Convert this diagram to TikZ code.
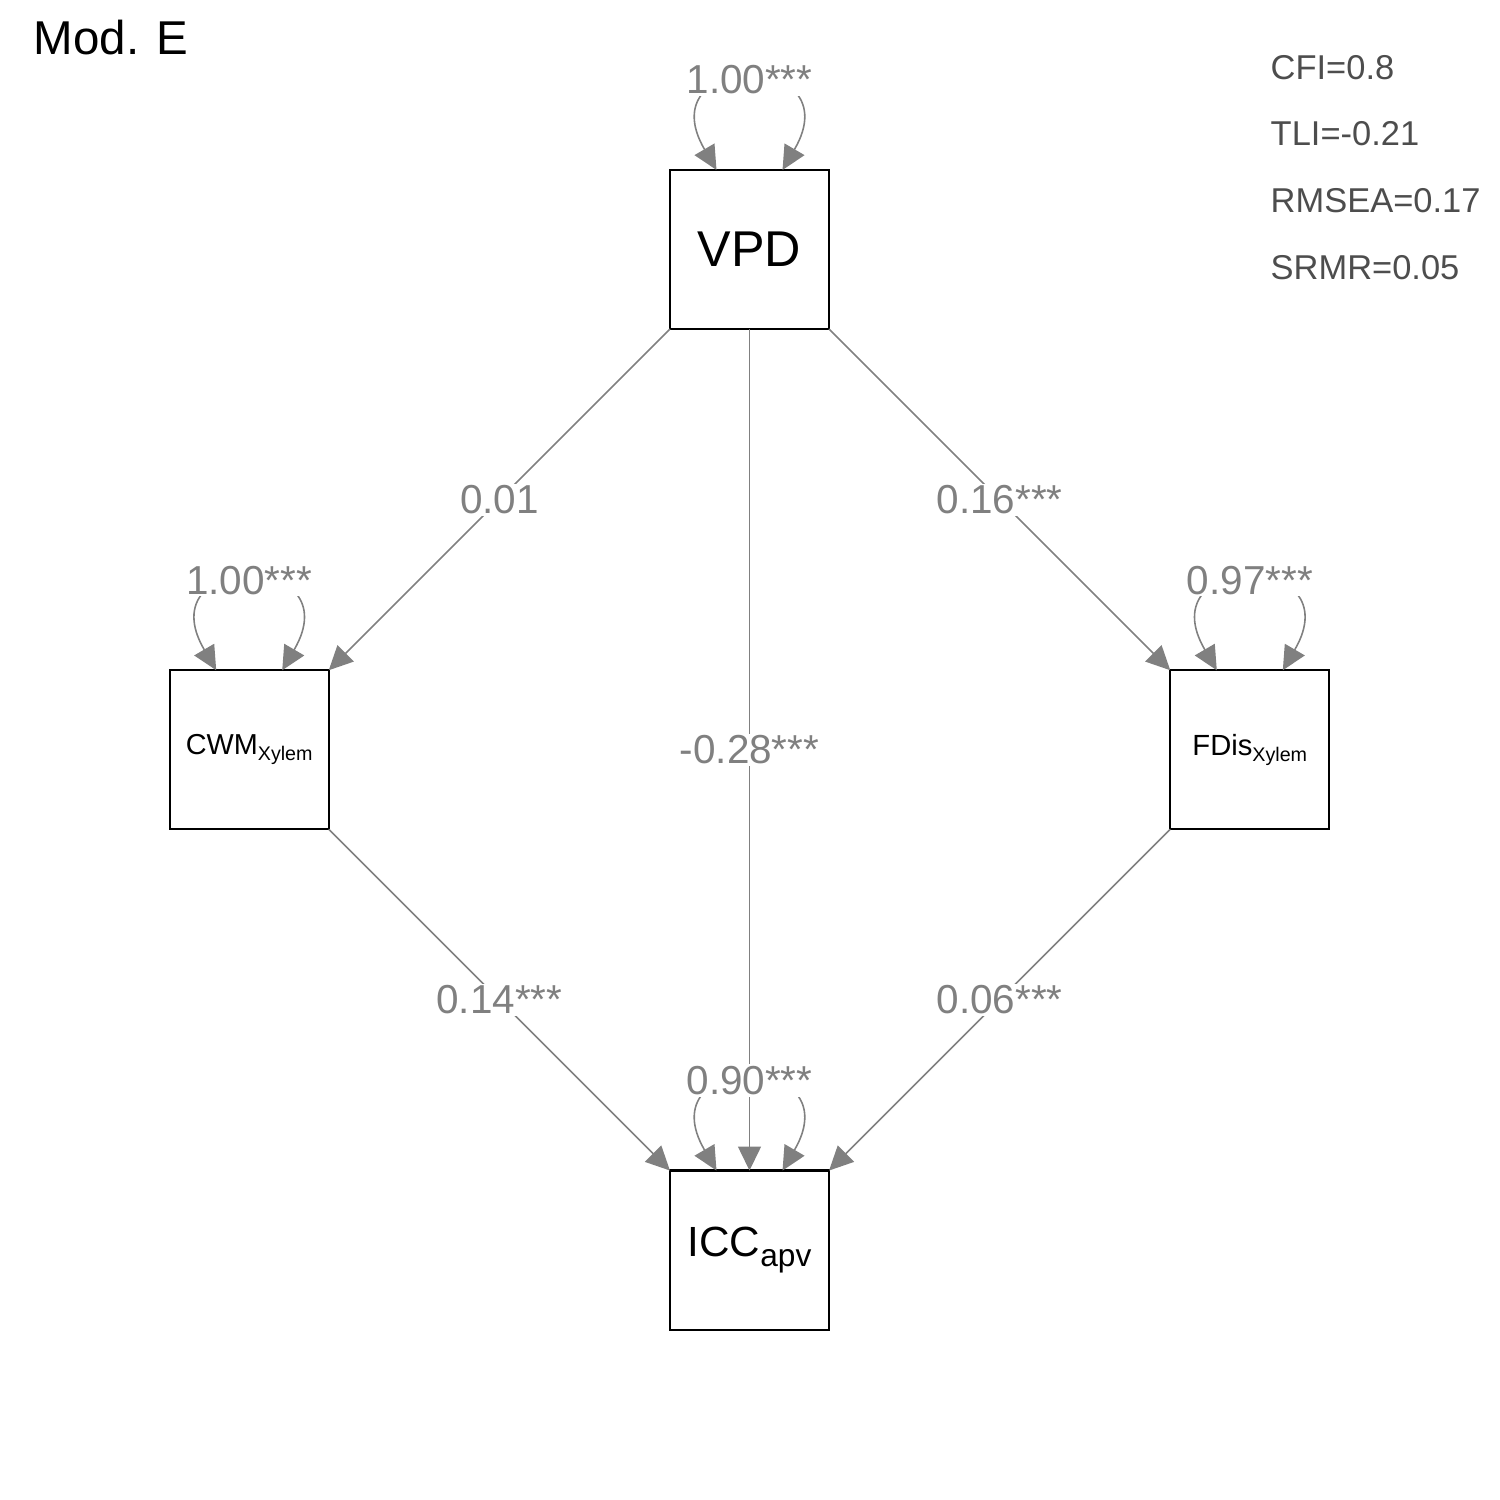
\documentclass[tikz,border=0pt]{standalone}
\usepackage{fontspec}
\setmainfont{Liberation Sans}
\usetikzlibrary{arrows.meta,positioning,calc}
\definecolor{edgegray}{HTML}{808080}
\definecolor{fitgray}{HTML}{4D4D4D}
\tikzset{
  obsvar/.style={rectangle,draw,line width=0.6pt,minimum size=1.59cm,inner sep=0pt,outer sep=0pt},
  effect/.style={-{Triangle[length=6.8pt,width=6.5pt]}, draw=edgegray, line width=0.45pt},
  resid/.style={{Triangle[length=6.8pt,width=6.5pt]}-{Triangle[length=6.8pt,width=6.5pt]}, draw=edgegray, line width=0.45pt},
  est/.style={fill=white,inner sep=0.5pt,text=edgegray,font=\fontsize{11.5pt}{12pt}\selectfont},
  fitstat/.style={anchor=west,inner sep=0pt,text=fitgray,font=\fontsize{9.8pt}{10pt}\selectfont}
}

\begin{document}
\begin{tikzpicture}[x=0.01cm,y=-0.01cm]
  \useasboundingbox (0,0) rectangle (1500,1500);
  \node[anchor=west,inner sep=0pt,font=\fontsize{13.5pt}{15pt}\selectfont] (title) at (33,38) {Mod. E};
  % variables
  \node[obsvar,font=\fontsize{14.3pt}{15pt}\selectfont] (VPD) at (749.5,249.5) {VPD};
  \node[obsvar,below left=3.41cm and 3.41cm of VPD,font=\fontsize{8.2pt}{9pt}\selectfont] (CWM)
      {CWM\raisebox{-1.8pt}{\fontsize{5.6pt}{6pt}\selectfont Xylem}};
  \node[obsvar,below right=3.41cm and 3.41cm of VPD,font=\fontsize{8.3pt}{9pt}\selectfont] (FDis)
      {FDis\raisebox{-1.8pt}{\fontsize{5.6pt}{6pt}\selectfont Xylem}};
  \node[obsvar,below=8.41cm of VPD,font=\fontsize{12pt}{13pt}\selectfont] (ICC)
      {ICC\raisebox{-2.6pt}{\fontsize{9pt}{10pt}\selectfont apv}};
  % paths
  \draw[effect] (VPD.south west) -- node[est] {0.01} (CWM.north east);
  \draw[effect] (VPD.south east) -- node[est] {0.16***} (FDis.north west);
  \draw[effect] (VPD.south) -- node[est] {-0.28***} (ICC.north);
  \draw[effect] (CWM.south east) -- node[est] {0.14***} (ICC.north west);
  \draw[effect] (FDis.south west) -- node[est] {0.06***} (ICC.north east);
  % residual variances
  \draw[resid] ($(VPD.north)+(-33,0)$) .. controls +(-70,-120) and +(70,-120) .. ($(VPD.north)+(33,0)$)
      node[est,pos=0.5] {1.00***};
  \draw[resid] ($(CWM.north)+(-33,0)$) .. controls +(-70,-120) and +(70,-120) .. ($(CWM.north)+(33,0)$)
      node[est,pos=0.5] {1.00***};
  \draw[resid] ($(FDis.north)+(-33,0)$) .. controls +(-70,-120) and +(70,-120) .. ($(FDis.north)+(33,0)$)
      node[est,pos=0.5] {0.97***};
  \draw[resid] ($(ICC.north)+(-33,0)$) .. controls +(-70,-120) and +(70,-120) .. ($(ICC.north)+(33,0)$)
      node[est,pos=0.5] {0.90***};
  % fit indices
  \node[fitstat] (cfi) at (1270,67.5) {CFI=0.8};
  \node[fitstat,below=0.408cm of cfi.south west,anchor=north west] (tli) {TLI=-0.21};
  \node[fitstat,below=0.408cm of tli.south west,anchor=north west] (rmsea) {RMSEA=0.17};
  \node[fitstat,below=0.408cm of rmsea.south west,anchor=north west] (srmr) {SRMR=0.05};
\end{tikzpicture}
\end{document}
